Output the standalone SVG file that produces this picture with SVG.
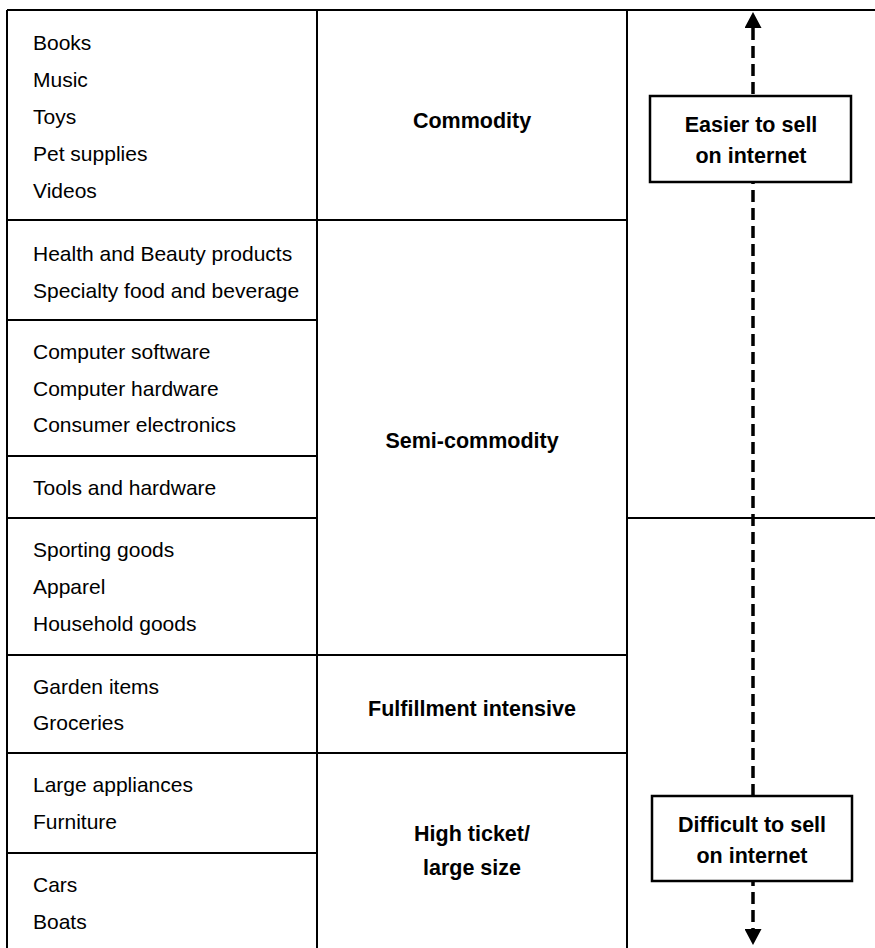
<svg xmlns="http://www.w3.org/2000/svg" width="875" height="948" viewBox="0 0 875 948">
<style>
  .grid { stroke: #000; stroke-width: 2; fill: none; }
  .item { font-family: "Liberation Sans", Arial, Helvetica, sans-serif; font-size: 21px; fill: #000; }
  .cat { font-family: "Liberation Sans", Arial, Helvetica, sans-serif; font-size: 21.5px; font-weight: bold; fill: #000; text-anchor: middle; }
  .box { fill: #fff; stroke: #000; stroke-width: 2.5; }
  .arrow { stroke: #000; stroke-width: 3.5; stroke-dasharray: 12 6; fill: none; }
</style>
<defs>
  <marker id="head" markerUnits="userSpaceOnUse" markerWidth="17" markerHeight="17" refX="0" refY="8.5" orient="auto-start-reverse">
    <path d="M0,0 L16,8.5 L0,17 Z" fill="#000"/>
  </marker>
</defs>
<rect width="875" height="948" fill="#fff"/>

<g id="grid">
  <line class="grid" x1="7" y1="10" x2="875" y2="10"/>
  <line class="grid" x1="7" y1="10" x2="7" y2="948"/>
  <line class="grid" x1="317" y1="10" x2="317" y2="948"/>
  <line class="grid" x1="627" y1="10" x2="627" y2="948"/>
  <line class="grid" x1="7" y1="220" x2="627" y2="220"/>
  <line class="grid" x1="7" y1="320" x2="317" y2="320"/>
  <line class="grid" x1="7" y1="456" x2="317" y2="456"/>
  <line class="grid" x1="7" y1="518" x2="317" y2="518"/>
  <line class="grid" x1="627" y1="518" x2="875" y2="518"/>
  <line class="grid" x1="7" y1="655" x2="627" y2="655"/>
  <line class="grid" x1="7" y1="753" x2="627" y2="753"/>
  <line class="grid" x1="7" y1="853" x2="317" y2="853"/>
</g>

<g id="items-commodity">
  <text class="item" x="33" y="50">Books</text>
  <text class="item" x="33" y="87">Music</text>
  <text class="item" x="33" y="124">Toys</text>
  <text class="item" x="33" y="161">Pet supplies</text>
  <text class="item" x="33" y="198">Videos</text>
</g>
<g id="items-health">
  <text class="item" x="33" y="261">Health and Beauty products</text>
  <text class="item" x="33" y="298">Specialty food and beverage</text>
</g>
<g id="items-computer">
  <text class="item" x="33" y="359">Computer software</text>
  <text class="item" x="33" y="396">Computer hardware</text>
  <text class="item" x="33" y="432">Consumer electronics</text>
</g>
<g id="items-tools">
  <text class="item" x="33" y="495">Tools and hardware</text>
</g>
<g id="items-sporting">
  <text class="item" x="33" y="557">Sporting goods</text>
  <text class="item" x="33" y="594">Apparel</text>
  <text class="item" x="33" y="631">Household goods</text>
</g>
<g id="items-garden">
  <text class="item" x="33" y="694">Garden items</text>
  <text class="item" x="33" y="730">Groceries</text>
</g>
<g id="items-large">
  <text class="item" x="33" y="792">Large appliances</text>
  <text class="item" x="33" y="829">Furniture</text>
</g>
<g id="items-cars">
  <text class="item" x="33" y="892">Cars</text>
  <text class="item" x="33" y="929">Boats</text>
</g>

<g id="cat-commodity"><text class="cat" x="472" y="128">Commodity</text></g>
<g id="cat-semi"><text class="cat" x="472" y="448">Semi-commodity</text></g>
<g id="cat-fulfillment"><text class="cat" x="472" y="716">Fulfillment intensive</text></g>
<g id="cat-highticket">
  <text class="cat" x="472" y="841">High ticket/</text>
  <text class="cat" x="472" y="875">large size</text>
</g>

<g id="connectors">
  <line class="arrow" x1="753" y1="28" x2="753" y2="929" marker-start="url(#head)" marker-end="url(#head)"/>
</g>

<g id="easier">
  <rect class="box" x="650" y="96" width="201" height="86"/>
  <text class="cat" x="751" y="132">Easier to sell</text>
  <text class="cat" x="751" y="163">on internet</text>
</g>
<g id="difficult">
  <rect class="box" x="652" y="796" width="200" height="85"/>
  <text class="cat" x="752" y="832">Difficult to sell</text>
  <text class="cat" x="752" y="863">on internet</text>
</g>
</svg>
